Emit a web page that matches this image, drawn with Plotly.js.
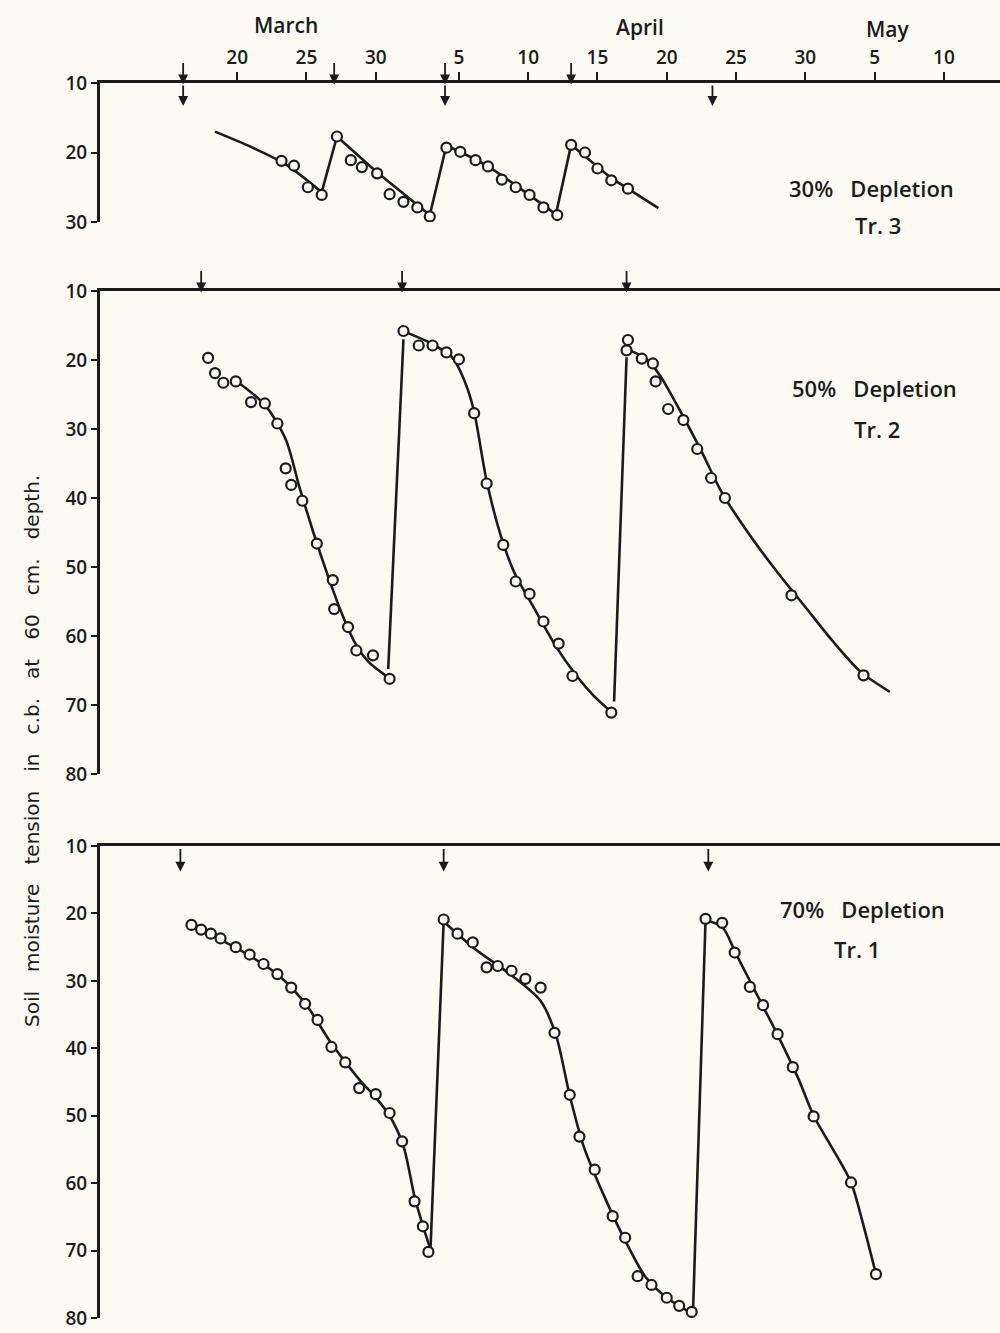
<!DOCTYPE html>
<html><head><meta charset="utf-8">
<script src="https://cdn.plot.ly/plotly-3.0.1.min.js"></script>
<style>html,body{margin:0;padding:0;background:#fbfbf4}</style>
</head><body><div id="chart" style="width:1000px;height:1333px"></div>
<script>
// Day index: March d -> d, April d -> 31+d, May d -> 61+d
const tickDays = [20, 25, 30, 36, 41, 46, 51, 56, 61, 66, 71];
const tickLabels = ['20', '25', '30', '5', '10', '15', '20', '25', '30', '5', '10'];
const monthNames = ['March', 'April', 'May'];

// Tr. 3 — 30% depletion (observed points)
const t3Days = [23.2, 24.1, 25.1, 26.1, 27.2, 28.2, 29.0, 30.1, 31.0, 32.0, 33.0, 33.9, 35.1, 36.1, 37.2, 38.1, 39.1, 40.1, 41.1, 42.1, 43.1, 44.1, 45.1, 46.0, 47.0, 48.2];
const t3Vals = [21.2, 21.9, 25.0, 26.1, 17.7, 21.1, 22.1, 23.0, 26.0, 27.1, 27.9, 29.2, 19.3, 19.9, 21.1, 22.0, 23.9, 25.0, 26.1, 27.9, 29.0, 18.9, 20.0, 22.3, 24.0, 25.2];
// Tr. 3 fitted line
const t3LineDays = [18.4, 21.0, 23.5, 26.1, 27.2, 30.0, 33.9, 35.1, 38.0, 43.0, 44.1, 47.0, 50.4];
const t3LineVals = [17.0, 19.2, 21.7, 25.7, 17.7, 22.7, 29.0, 19.0, 21.9, 28.9, 18.9, 23.7, 28.0];

// Tr. 2 — 50% depletion
const t2Days = [17.9, 18.4, 19.0, 19.9, 21.0, 22.0, 22.9, 23.5, 23.9, 24.7, 25.75, 26.9, 27.0, 28.0, 28.6, 29.8, 31.0,
  32.0, 33.1, 34.1, 35.1, 36.0, 37.1, 38.0, 39.2, 40.1, 41.1, 42.1, 43.2, 44.2, 47.0,
  48.2, 48.1, 49.2, 50.0, 50.2, 51.1, 52.2, 53.2, 54.2, 55.2, 60.0, 65.2];
const t2Vals = [19.7, 21.9, 23.3, 23.1, 26.1, 26.3, 29.2, 35.7, 38.1, 40.4, 46.6, 51.9, 56.1, 58.7, 62.1, 62.8, 66.2,
  15.8, 17.9, 17.9, 18.9, 19.9, 27.7, 37.9, 46.8, 52.1, 53.9, 57.9, 61.1, 65.8, 71.1,
  17.1, 18.6, 19.8, 20.5, 23.1, 27.1, 28.7, 32.9, 37.1, 40.0, 54.1, 65.7];
const t2LineA_Days = [20.1, 22.0, 23.5, 24.5, 25.5, 26.5, 27.5, 28.5, 29.5, 30.9];
const t2LineA_Vals = [23.3, 26.5, 31.5, 38.5, 45.0, 51.0, 56.5, 61.0, 63.8, 66.0];
const t2LineB_Days = [32.2, 34.0, 35.5, 36.5, 37.1, 38.0, 39.0, 40.0, 41.5, 43.0, 44.5, 45.7, 47.0];
const t2LineB_Vals = [16.0, 17.6, 19.6, 23.5, 27.5, 37.5, 45.3, 50.8, 56.2, 61.5, 65.8, 68.6, 71.0];
const t2LineC_Days = [48.2, 49.5, 50.5, 52.0, 53.5, 55.0, 57.0, 59.0, 61.0, 63.0, 65.0, 67.1];
const t2LineC_Vals = [18.5, 19.8, 22.2, 27.5, 33.2, 39.3, 45.4, 50.8, 55.8, 60.8, 65.2, 68.1];
const t2JumpDays = [[30.9, 32.0], [47.2, 48.1]];
const t2JumpVals = [[64.8, 17.0], [69.5, 19.6]];

// Tr. 1 — 70% depletion
const t1Days = [16.7, 17.4, 18.1, 18.8, 19.9, 20.9, 21.9, 22.9, 23.9, 24.9, 25.8, 26.8, 27.8, 28.8, 30.0, 31.0, 31.9, 32.8, 33.4, 33.8,
  34.9, 35.9, 37.0, 38.0, 38.8, 39.8, 40.8, 41.9, 42.9, 44.0, 44.7, 45.8, 47.1, 48.0, 48.9, 49.9, 51.0, 51.9, 52.8,
  53.8, 55.0, 55.9, 57.0, 57.95, 59.0, 60.1, 61.6, 64.3, 66.1];
const t1Vals = [21.7, 22.4, 23.0, 23.7, 25.0, 26.1, 27.5, 29.0, 31.0, 33.4, 35.8, 39.8, 42.1, 45.9, 46.8, 49.6, 53.8, 62.7, 66.4, 70.2,
  20.9, 23.0, 24.3, 28.0, 27.8, 28.5, 29.7, 31.0, 37.7, 46.9, 53.1, 58.0, 64.9, 68.1, 73.8, 75.1, 77.0, 78.2, 79.1,
  20.8, 21.4, 25.8, 30.9, 33.6, 37.9, 42.8, 50.1, 59.9, 73.5];
const t1LineA_Days = [16.7, 20.0, 23.0, 25.0, 26.8, 28.8, 30.0, 31.0, 32.0, 32.8, 33.4, 33.95];
const t1LineA_Vals = [21.8, 25.2, 29.2, 33.6, 39.3, 44.6, 47.3, 50.0, 54.5, 62.0, 66.3, 69.8];
const t1LineB_Days = [34.9, 37.0, 40.0, 41.9, 43.0, 44.0, 45.0, 46.5, 48.0, 49.5, 51.0, 52.8];
const t1LineB_Vals = [21.2, 25.0, 29.5, 33.0, 38.0, 47.0, 54.5, 62.0, 68.5, 74.0, 77.0, 79.3];
const t1LineC_Days = [53.8, 55.0, 56.0, 57.5, 59.0, 60.5, 61.6, 63.0, 64.3, 65.2, 66.1];
const t1LineC_Vals = [21.0, 22.0, 26.0, 32.0, 38.0, 44.5, 50.0, 55.0, 59.9, 66.3, 73.5];
const t1JumpDays = [[33.95, 34.9], [52.9, 53.8]];
const t1JumpVals = [[69.8, 21.2], [78.8, 21.0]];

// Irrigation arrows (day of irrigation)
const arrowsTopAbove = [16.1, 27.0, 35.0, 44.1];
const arrowsTopBelow = [16.1, 35.0, 54.3];
const arrowsMid = [17.4, 31.9, 48.1];
const arrowsBot = [15.9, 34.9, 54.0];

const ink = '#1b1b1b';
const bg = '#fbfbf4';
const fontFam = '"Open Sans", "DejaVu Sans", sans-serif';

function curve(x, y, xa, ya, shape) {
  return {x: x, y: y, xaxis: xa, yaxis: ya, mode: 'lines', type: 'scatter',
    line: {color: ink, width: 2.6, shape: shape || 'spline', smoothing: 0.8}, hoverinfo: 'skip', showlegend: false};
}
function pts(x, y, xa, ya) {
  return {x: x, y: y, xaxis: xa, yaxis: ya, mode: 'markers', type: 'scatter',
    marker: {symbol: 'circle', size: 10, color: bg, line: {color: ink, width: 2.2}}, hoverinfo: 'skip', showlegend: false};
}

const traces = [];
traces.push(curve(t3LineDays.slice(0, 4), t3LineVals.slice(0, 4), 'x', 'y'));
traces.push(curve(t3LineDays.slice(3, 5), t3LineVals.slice(3, 5), 'x', 'y', 'linear'));
traces.push(curve(t3LineDays.slice(4, 7), t3LineVals.slice(4, 7), 'x', 'y', 'linear'));
traces.push(curve(t3LineDays.slice(6, 8), t3LineVals.slice(6, 8), 'x', 'y', 'linear'));
traces.push(curve(t3LineDays.slice(7, 10), t3LineVals.slice(7, 10), 'x', 'y'));
traces.push(curve(t3LineDays.slice(9, 11), t3LineVals.slice(9, 11), 'x', 'y', 'linear'));
traces.push(curve(t3LineDays.slice(10), t3LineVals.slice(10), 'x', 'y', 'linear'));
traces.push(pts(t3Days, t3Vals, 'x', 'y'));

traces.push(curve(t2LineA_Days, t2LineA_Vals, 'x2', 'y2'));
traces.push(curve(t2LineB_Days, t2LineB_Vals, 'x2', 'y2'));
traces.push(curve(t2LineC_Days, t2LineC_Vals, 'x2', 'y2'));
t2JumpDays.forEach((d, i) => traces.push(curve(d, t2JumpVals[i], 'x2', 'y2', 'linear')));
traces.push(pts(t2Days, t2Vals, 'x2', 'y2'));

traces.push(curve(t1LineA_Days, t1LineA_Vals, 'x3', 'y3'));
traces.push(curve(t1LineB_Days, t1LineB_Vals, 'x3', 'y3'));
traces.push(curve(t1LineC_Days, t1LineC_Vals, 'x3', 'y3'));
t1JumpDays.forEach((d, i) => traces.push(curve(d, t1JumpVals[i], 'x3', 'y3', 'linear')));
traces.push(pts(t1Days, t1Vals, 'x3', 'y3'));

const H = 1333;
const tickFont = {family: fontFam, size: 19, color: ink, weight: 600};
const xr = [10.1, 75.05];
function yAx(domTopPx, domBotPx, lo, hi, vals) {
  return {domain: [1 - domBotPx / H, 1 - domTopPx / H], range: [hi, lo],
    tickvals: vals, ticks: 'outside', ticklen: 6, tickwidth: 2, tickcolor: ink,
    showline: true, linewidth: 3, linecolor: ink, showgrid: false, zeroline: false,
    tickfont: tickFont, fixedrange: true, ticklabeloverflow: 'allow'};
}
const xBase = {range: xr, side: 'top', showline: true, linewidth: 3, linecolor: ink, showgrid: false, zeroline: false, fixedrange: true};

const layout = {
  width: 1000, height: H,
  margin: {l: 100, r: 0, t: 0, b: 0},
  paper_bgcolor: bg, plot_bgcolor: bg,
  showlegend: false,
  xaxis: Object.assign({}, xBase, {anchor: 'y', tickvals: tickDays, ticktext: tickLabels, ticks: 'outside', ticklen: 8, tickwidth: 2, tickcolor: ink, tickfont: tickFont}),
  xaxis2: Object.assign({}, xBase, {anchor: 'y2', showticklabels: false, ticks: ''}),
  xaxis3: Object.assign({}, xBase, {anchor: 'y3', showticklabels: false, ticks: ''}),
  yaxis: Object.assign(yAx(83, 222, 10, 30, [10, 20, 30]), {anchor: 'x'}),
  yaxis2: Object.assign(yAx(291, 774, 10, 80, [10, 20, 30, 40, 50, 60, 70, 80]), {anchor: 'x2'}),
  yaxis3: Object.assign(yAx(846, 1318, 10, 80, [10, 20, 30, 40, 50, 60, 70, 80]), {anchor: 'x3'}),
  annotations: []
};

const ann = layout.annotations;
const labFont = {family: fontFam, size: 22, color: ink, weight: 600};
const monFont = {family: fontFam, size: 21, color: ink, weight: 600};
const gap = '\u00a0\u00a0 ';
function txt(t, px, py, f) {
  ann.push({text: t, xref: 'paper', yref: 'paper', x: (px - 100) / 900, y: 1 - py / H, showarrow: false,
    xanchor: 'center', yanchor: 'middle', font: f || labFont});
}
txt(monthNames[0], 286, 25, monFont);
txt(monthNames[1], 640, 27, monFont);
txt(monthNames[2], 888, 29, monFont);
txt('30%' + gap + 'Depletion', 871, 188);
txt('Tr. 3', 878, 225);
txt('50%' + gap + 'Depletion', 874, 388);
txt('Tr. 2', 877, 429);
txt('70%' + gap + 'Depletion', 862, 909);
txt('Tr. 1', 857, 949);
const yTitleWords = ['Soil', 'moisture', 'tension', 'in', 'c.b.', 'at', '60', 'cm.', 'depth.'];
ann.push({text: yTitleWords.join(gap), xref: 'paper', yref: 'paper',
  x: (32 - 100) / 900, y: 1 - 751 / H, textangle: -90, showarrow: false, xanchor: 'center', yanchor: 'middle',
  font: {family: '"DejaVu Sans", sans-serif', size: 20, color: ink}});

function arrow(day, val, xa, ya, ay) {
  ann.push({x: day, y: val, xref: xa, yref: ya, text: '', showarrow: true, arrowhead: 2, arrowsize: 1.1,
    arrowwidth: 1.8, arrowcolor: ink, ax: 0, ay: ay});
}
arrowsTopAbove.forEach(d => arrow(d, 10.2, 'x', 'y', -23));
arrowsTopBelow.forEach(d => arrow(d, 13.3, 'x', 'y', -22));
arrowsMid.forEach(d => arrow(d, 10.2, 'x2', 'y2', -23));
arrowsBot.forEach(d => arrow(d, 13.8, 'x3', 'y3', -24));

Plotly.newPlot('chart', traces, layout, {staticPlot: true});
</script></body></html>
